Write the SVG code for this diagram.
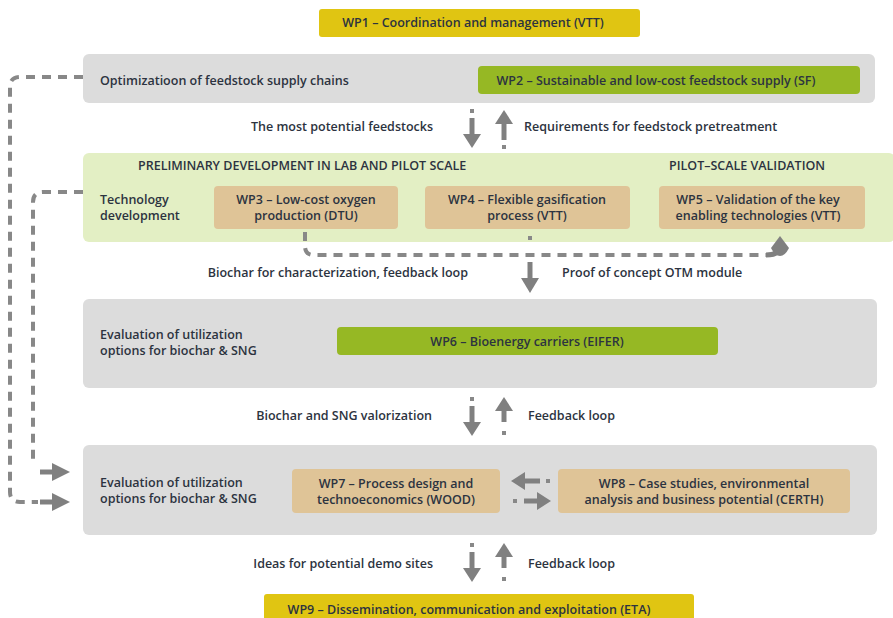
<svg xmlns="http://www.w3.org/2000/svg" width="893" height="618" viewBox="0 0 893 618">
<defs>
<style>
text{font-family:"Open Sans","Liberation Sans",sans-serif;font-size:12.5px;font-weight:600;fill:#2c3340}
.c{text-anchor:middle}
.gray{fill:#dcdcdc}
.lg{fill:#e3efc4}
.green{fill:#96b824}
.tan{fill:#dfc497}
.yel{fill:#e0c512}
.dash{fill:none;stroke:#888;stroke-width:4;stroke-dasharray:9 7}
.stem{fill:none;stroke:#808080;stroke-width:5}
.head{fill:#808080}
.dot{fill:#888}
</style>
</defs>
<rect width="893" height="618" fill="#fff"/>

<g id="band1"><rect class="gray" x="83" y="54" width="792" height="49" rx="6"/><text x="100" y="85">Optimizatioon of feedstock supply chains</text></g>
<g id="band2"><rect class="lg" x="83" y="153" width="812" height="89" rx="6"/>
<text x="138" y="170">PRELIMINARY DEVELOPMENT IN LAB AND PILOT SCALE</text>
<text x="669" y="170">PILOT–SCALE VALIDATION</text>
<text x="100" y="203.5">Technology</text><text x="100" y="219.5">development</text></g>
<g id="band3"><rect class="gray" x="83" y="299" width="794" height="89" rx="6"/><text x="100" y="338.5">Evaluation of utilization</text><text x="100" y="354.5">options for biochar &amp; SNG</text></g>
<g id="band4"><rect class="gray" x="83" y="445" width="794" height="90" rx="6"/><text x="100" y="486.5">Evaluation of utilization</text><text x="100" y="502.5">options for biochar &amp; SNG</text></g>

<g id="wp1"><rect class="yel" x="319" y="9" width="321" height="28" rx="3"/><text class="c" x="473" y="27">WP1 – Coordination and management (VTT)</text></g>
<g id="wp2"><rect class="green" x="478" y="66" width="382" height="28" rx="4"/><text class="c" x="656" y="85">WP2 – Sustainable and low-cost feedstock supply (SF)</text></g>
<g id="wp3"><rect class="tan" x="214" y="186" width="184" height="43" rx="4"/><text class="c" x="306" y="203.5">WP3 – Low-cost oxygen</text><text class="c" x="306" y="219.5">production (DTU)</text></g>
<g id="wp4"><rect class="tan" x="425" y="186" width="205" height="43" rx="4"/><text class="c" x="527" y="203.5">WP4 – Flexible gasification</text><text class="c" x="527" y="219.5">process (VTT)</text></g>
<g id="wp5"><rect class="tan" x="659" y="186" width="206" height="43" rx="4"/><text class="c" x="758" y="203.5">WP5 – Validation of the key</text><text class="c" x="758" y="219.5">enabling technologies (VTT)</text></g>
<g id="wp6"><rect class="green" x="337" y="327" width="381" height="28" rx="4"/><text class="c" x="527" y="346">WP6 – Bioenergy carriers (EIFER)</text></g>
<g id="wp7"><rect class="tan" x="292" y="469" width="208" height="44" rx="4"/><text class="c" x="396" y="487.5">WP7 – Process design and</text><text class="c" x="396" y="503.5">technoeconomics (WOOD)</text></g>
<g id="wp8"><rect class="tan" x="558" y="469" width="292" height="44" rx="4"/><text class="c" x="704" y="487.5">WP8 – Case studies, environmental</text><text class="c" x="704" y="503.5">analysis and business potential (CERTH)</text></g>
<g id="wp9"><rect class="yel" x="264" y="594" width="430" height="30" rx="3"/><text class="c" x="469" y="614">WP9 – Dissemination, communication and exploitation (ETA)</text></g>

<g id="labels">
<text x="433" y="131" text-anchor="end">The most potential feedstocks</text>
<text x="524" y="131">Requirements for feedstock pretreatment</text>
<text x="468" y="277" text-anchor="end">Biochar for characterization, feedback loop</text>
<text x="562" y="277">Proof of concept OTM module</text>
<text x="432" y="420" text-anchor="end">Biochar and SNG valorization</text>
<text x="528" y="420">Feedback loop</text>
<text x="433" y="568" text-anchor="end">Ideas for potential demo sites</text>
<text x="528" y="568">Feedback loop</text>
</g>

<g id="connectors">
<path class="dash" d="M83,77 H20 Q10,77 10,87 V492 Q10,502 20,502 H38"/>
<path class="stem" d="M40,502 H56"/><path class="head" d="M52,493 L70,502 L52,511 Z"/>
<path class="dash" d="M83,192 H43 Q33,192 33,202 V462"/>
<path class="stem" d="M40,472 H56"/><path class="head" d="M52,463 L70,472 L52,481 Z"/>
<path class="dash" d="M305,232 V246 Q305,255 314,255 H770"/>
<path class="stem" d="M766,255 Q780,255 780,246"/><path class="head" d="M771,248 L780,236 L789,248 Q785,256 780,256 Q775,256 771,248 Z"/>
<rect class="dot" x="528" y="236" width="4" height="4"/>
<path class="stem" d="M530,262 V280"/><path class="head" d="M521,278 L530,293 L539,278 Z"/>
<rect class="dot" x="470" y="109" width="4" height="4"/>
<path class="stem" d="M472,118 V136"/><path class="head" d="M463,134 L472,148 L481,134 Z"/>
<path class="stem" d="M504,122 V140"/><path class="head" d="M495,124 L504,110 L513,124 Z"/>
<rect class="dot" x="502" y="145" width="4" height="4"/>
<rect class="dot" x="470" y="397" width="4" height="4"/>
<path class="stem" d="M472,406 V424"/><path class="head" d="M463,422 L472,436 L481,422 Z"/>
<path class="stem" d="M504,408 V422"/><path class="head" d="M495,411 L504,397 L513,411 Z"/>
<rect class="dot" x="502" y="431" width="4" height="4"/>
<rect class="dot" x="470" y="543" width="4" height="4"/>
<path class="stem" d="M472,552 V570"/><path class="head" d="M463,568 L472,582 L481,568 Z"/>
<path class="stem" d="M504,554 V568"/><path class="head" d="M495,557 L504,543 L513,557 Z"/>
<rect class="dot" x="502" y="577" width="4" height="4"/>
<rect class="dot" x="546" y="479" width="4" height="4"/>
<path class="stem" d="M540,481 H522"/><path class="head" d="M525,472 L511,481 L525,490 Z"/>
<rect class="dot" x="513" y="499" width="4" height="4"/>
<path class="stem" d="M524,501 H540"/><path class="head" d="M537,492 L551,501 L537,510 Z"/>
</g>
</svg>
